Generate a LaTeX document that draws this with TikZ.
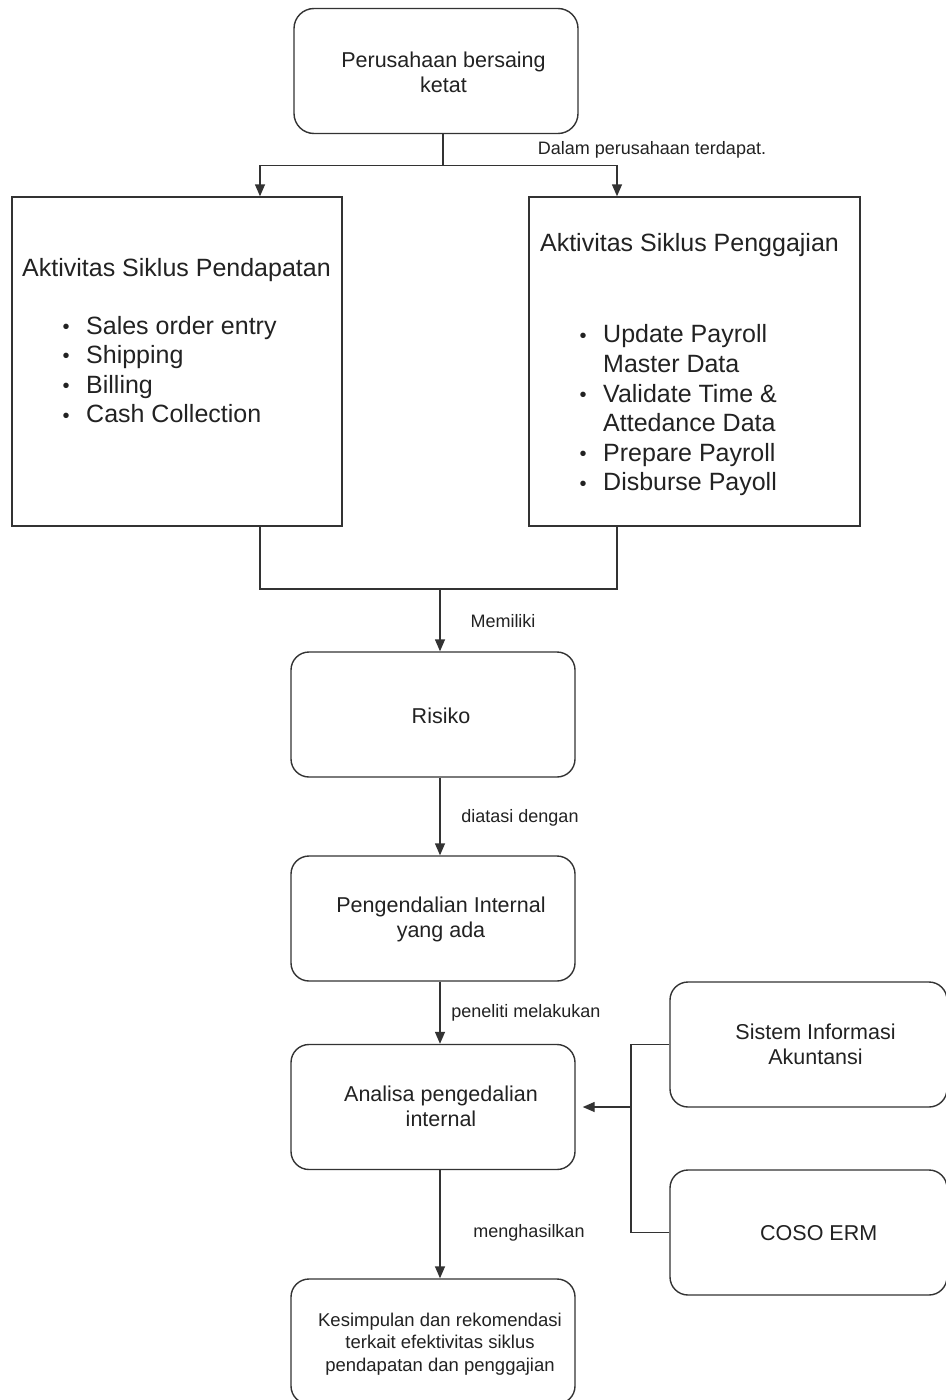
\documentclass[tikz,border=0pt]{standalone}
\usepackage{fontspec}
\setmainfont{Liberation Sans}
\usetikzlibrary{arrows.meta}
\definecolor{ln}{HTML}{333333}
\definecolor{tx}{HTML}{222222}
\newcommand{\mybul}{\raisebox{0.05ex}{\scalebox{0.8}{\textbullet}}}
\tikzset{
 box/.style={draw=ln, line width=1.4pt, rounded corners=18pt, minimum width=284pt, minimum height=125pt, inner sep=0pt},
 sqbox/.style={draw=ln, line width=1.4pt, inner sep=0pt},
 txt/.style={text=tx, align=center, font=\fontsize{21.5}{25}\selectfont, inner sep=0pt},
 big/.style={text=tx, font=\fontsize{25}{29.6}\selectfont, inner sep=0pt},
 lbl/.style={text=tx, font=\fontsize{18}{21}\selectfont, inner sep=0pt},
 con/.style={draw=ln, line width=1.4pt},
 arr/.style={con, -{Triangle[length=12pt,width=10pt]}},
}
\begin{document}
\begin{tikzpicture}[x=1pt,y=-1pt]
\useasboundingbox (0,0) rectangle (945,1400);
\fill[white] (0,0) rectangle (945,1400);

% boxes
\node[box, rounded corners=20pt] (top) at (436,71) {};
\node[sqbox, minimum width=330pt, minimum height=329pt] (left) at (177,361.5) {};
\node[sqbox, minimum width=331pt, minimum height=329pt] (right) at (694.5,361.5) {};
\node[box] (risk) at (433,714.5) {};
\node[box] (peng) at (433,918.5) {};
\node[box] (ana) at (433,1107) {};
\node[box] (kes) at (433,1341.5) {};
\node[box, minimum width=277pt] (sia) at (808.5,1044.5) {};
\node[box, minimum width=277pt] (coso) at (808.5,1232.5) {};

% texts
\node[txt] (topT) at (443.5,72) {Perusahaan bersaing\\ketat};
\node[big] (leftT) at (176.5,270) {Aktivitas Siklus Pendapatan};
\node[big, anchor=west] (leftL) at (46,372.5) {\begin{tabular}{@{}l@{}l@{}}
\makebox[40pt][c]{\mybul} & Sales order entry\\
\makebox[40pt][c]{\mybul} & Shipping\\
\makebox[40pt][c]{\mybul} & Billing\\
\makebox[40pt][c]{\mybul} & Cash Collection
\end{tabular}};
\node[big] (rightT) at (689.5,245) {Aktivitas Siklus Penggajian};
\node[big, anchor=west] (rightL) at (563,411) {\begin{tabular}{@{}l@{}l@{}}
\makebox[40pt][c]{\mybul} & Update Payroll\\
 & Master Data\\
\makebox[40pt][c]{\mybul} & Validate Time \&\\
 & Attedance Data\\
\makebox[40pt][c]{\mybul} & Prepare Payroll\\
\makebox[40pt][c]{\mybul} & Disburse Payoll
\end{tabular}};
\node[txt] (riskT) at (441,716) {Risiko};
\node[txt] (pengT) at (441,919) {Pengendalian Internal\\yang ada};
\node[txt] (anaT) at (441,1106) {Analisa pengedalian\\internal};
\node[txt, font=\fontsize{18.5}{22.5}\selectfont] (kesT) at (440,1344) {Kesimpulan dan rekomendasi\\terkait efektivitas siklus\\pendapatan dan penggajian};
\node[txt] (siaT) at (815.5,1044.5) {Sistem Informasi\\Akuntansi};
\node[txt] (cosoT) at (818.7,1233) {COSO ERM};

% connectors
\draw[con] ([xshift=7pt]top.south) -- ++(0,31) coordinate (j1);
\draw[arr] (j1) -| ([xshift=83pt]left.north);
\draw[arr] (j1) -| ([xshift=-77.5pt]right.north);
\coordinate (j2) at (440,589);
\draw[con] ([xshift=83pt]left.south) |- (j2) -| ([xshift=-77.5pt]right.south);
\draw[arr] (j2) -- (j2 |- risk.north);
\draw[arr] ([xshift=7pt]risk.south) -- ([xshift=7pt]peng.north);
\draw[arr] ([xshift=7pt]peng.south) -- ([xshift=7pt]ana.north);
\draw[arr] ([xshift=7pt]ana.south) -- ([xshift=7pt]kes.north);
\coordinate (j3) at (631,1107);
\draw[con] (sia.west) -| (j3);
\draw[con] (coso.west) -| (j3);
\draw[arr, shorten >=7pt] (j3) -- (ana.east);

% labels
\node[lbl] (l1) at (652,150) {Dalam perusahaan terdapat.};
\node[lbl] (l2) at (503,621) {Memiliki};
\node[lbl] (l3) at (520,818) {diatasi dengan};
\node[lbl] (l4) at (526,1013) {peneliti melakukan};
\node[lbl] (l5) at (529,1233) {menghasilkan};
\end{tikzpicture}
\end{document}
